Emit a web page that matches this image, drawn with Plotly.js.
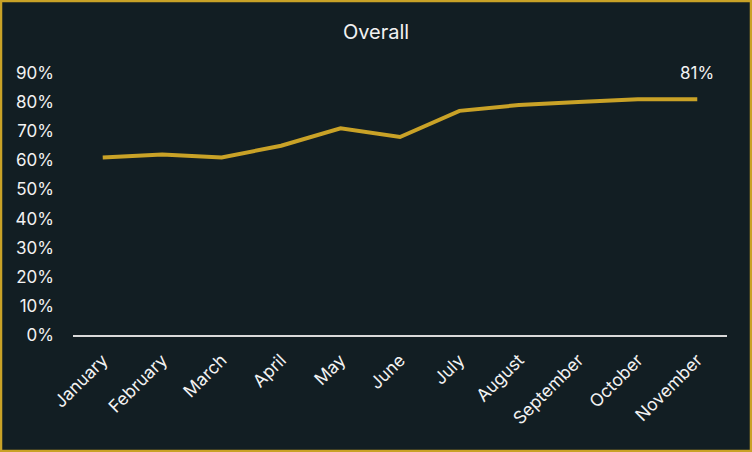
<!DOCTYPE html>
<html>
<head>
<meta charset="utf-8">
<script src="https://cdn.plot.ly/plotly-3.0.1.min.js"></script>
<style>
  html, body { margin: 0; padding: 0; background: #121e23; }
  #chart { width: 752px; height: 452px; }
</style>
</head>
<body>
<div id="chart"></div>
<script>
var months = ["January", "February", "March", "April", "May", "June",
              "July", "August", "September", "October", "November"];
var overall = [0.61, 0.62, 0.61, 0.65, 0.71, 0.68, 0.77, 0.79, 0.80, 0.81, 0.81];

var trace = {
    x: months,
    y: overall,
    type: 'scatter',
    mode: 'lines',
    line: { color: '#c9a227', width: 4 },
    hoverinfo: 'skip'
};

var last = overall.length - 1;

// plot area is 654 x 262 px, border goes round the whole paper
var layout = {
    width: 752,
    height: 452,
    paper_bgcolor: '#121e23',
    plot_bgcolor: '#121e23',
    font: { family: 'Inter, "Open Sans", sans-serif', color: '#f2f2f2', size: 17 },
    margin: { l: 73, r: 25, t: 73, b: 117 },
    title: {
        text: 'Overall',
        font: { size: 20, color: '#f2f2f2' },
        x: 0.5,
        xanchor: 'center',
        y: 0.93,
        yanchor: 'middle'
    },
    showlegend: false,
    xaxis: {
        type: 'category',
        range: [-0.5, months.length - 0.5],
        tickangle: -45,
        showgrid: false,
        showline: true,
        linecolor: '#d9d9d9',
        linewidth: 2,
        ticks: '',
        zeroline: false,
        ticklabelstandoff: 6,
        tickfont: { size: 17.5 }
    },
    yaxis: {
        range: [0, 0.9],
        dtick: 0.1,
        tickformat: '.0%',
        showgrid: false,
        zeroline: false,
        showline: false,
        ticks: '',
        ticklabelstandoff: 18,
        tickfont: { size: 17 }
    },
    annotations: [{
        x: months[last],
        y: overall[last],
        text: Math.round(overall[last] * 100) + '%',
        showarrow: false,
        yshift: 26,
        font: { size: 17, color: '#f2f2f2' }
    }],
    shapes: [{
        type: 'rect',
        xref: 'paper', yref: 'paper',
        x0: -72 / 654, x1: 1 + 24 / 654,
        y0: -116 / 262, y1: 1 + 72 / 262,
        line: { color: '#c9a227', width: 2.5 },
        layer: 'above'
    }]
};

Plotly.newPlot('chart', [trace], layout, { displayModeBar: false, staticPlot: true });
</script>
</body>
</html>
